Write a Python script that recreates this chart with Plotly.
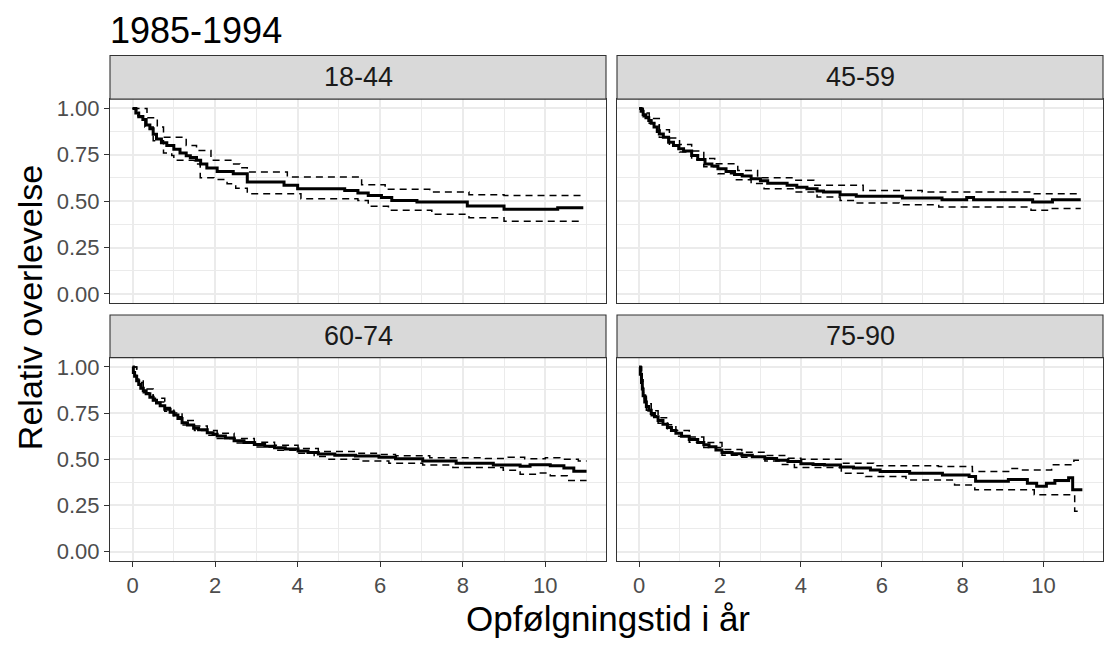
import plotly.graph_objects as go

# Relative survival (step estimates with 95% limits) by age group, 1985-1994
panels = ["18-44", "45-59", "60-74", "75-90"]

# 18-44
t_1844 = [0, 0.08, 0.15, 0.25, 0.33, 0.42, 0.5, 0.58, 0.7, 0.83, 1.0, 1.15, 1.3, 1.4, 1.55, 1.65,
          1.8, 2.05, 2.44, 2.78, 3.67, 4.0, 5.14, 5.46, 5.71, 6.03, 6.28, 6.89, 8.11, 9.0, 10.3, 10.92]
s_1844 = [1.0, 0.975, 0.955, 0.94, 0.91, 0.89, 0.86, 0.835, 0.815, 0.80, 0.78, 0.76, 0.745, 0.735, 0.72, 0.70,
          0.678, 0.66, 0.648, 0.603, 0.585, 0.567, 0.558, 0.544, 0.531, 0.519, 0.504, 0.496, 0.474, 0.456, 0.465, 0.465]
tu_1844 = [0, 0.35, 0.6, 0.75, 1.3, 1.55, 1.9, 2.4, 2.6, 2.78, 3.75, 5.55, 6.12, 7.2, 8.15, 9.0, 10.92]
up_1844 = [1.0, 0.95, 0.9, 0.844, 0.80, 0.773, 0.72, 0.70, 0.68, 0.657, 0.63, 0.589, 0.564, 0.549, 0.535, 0.531, 0.531]
tl_1844 = [0, 0.1, 0.3, 0.5, 0.75, 0.95, 1.0, 1.5, 1.64, 1.97, 2.29, 2.5, 2.78, 4.08, 5.46, 5.71, 6.2, 7.25, 8.15, 9.0, 10.92]
lo_1844 = [1.0, 0.96, 0.9, 0.826, 0.76, 0.746, 0.72, 0.70, 0.626, 0.617, 0.594, 0.57, 0.540, 0.513, 0.504, 0.472, 0.451, 0.429, 0.411, 0.392, 0.392]

# 45-59
t_4559 = [0, 0.05, 0.1, 0.17, 0.24, 0.3, 0.37, 0.45, 0.5, 0.6, 0.73, 0.85, 0.98, 1.1, 1.3, 1.45, 1.63, 1.8, 1.95,
          2.15, 2.36, 2.55, 2.77, 3.0, 3.18, 3.66, 3.9, 4.15, 4.4, 4.56, 4.97, 5.37, 6.51, 7.49, 8.1, 8.27, 9.73, 10.22, 10.92]
s_4559 = [1.0, 0.985, 0.965, 0.95, 0.934, 0.92, 0.90, 0.875, 0.862, 0.845, 0.818, 0.80, 0.782, 0.77, 0.746, 0.725, 0.70, 0.69, 0.674,
          0.66, 0.644, 0.635, 0.621, 0.61, 0.597, 0.585, 0.575, 0.567, 0.555, 0.549, 0.535, 0.526, 0.517, 0.508, 0.519, 0.508, 0.496, 0.508, 0.508]
tu_4559 = [0, 0.1, 0.25, 0.5, 0.75, 1.0, 1.3, 1.6, 1.87, 2.44, 2.93, 3.83, 4.32, 5.54, 7.0, 9.77, 10.92]
up_4559 = [1.0, 0.975, 0.945, 0.885, 0.84, 0.805, 0.77, 0.73, 0.701, 0.665, 0.626, 0.612, 0.585, 0.558, 0.549, 0.540, 0.540]
tl_4559 = [0, 0.1, 0.25, 0.5, 0.75, 1.0, 1.3, 1.6, 1.95, 2.36, 2.77, 3.09, 3.83, 4.4, 4.97, 5.37, 6.43, 7.41, 9.69, 10.18, 10.92]
lo_4559 = [1.0, 0.955, 0.92, 0.845, 0.80, 0.765, 0.725, 0.685, 0.648, 0.615, 0.595, 0.567, 0.549, 0.522, 0.504, 0.490, 0.481, 0.469, 0.451, 0.460, 0.460]

# 60-74
t_6074 = [0, 0.02, 0.05, 0.1, 0.15, 0.2, 0.26, 0.33, 0.42, 0.5, 0.58, 0.67, 0.78, 0.91, 1.0, 1.1, 1.2, 1.33, 1.48, 1.6,
          1.81, 1.95, 2.05, 2.25, 2.46, 2.7, 2.95, 3.2, 3.44, 3.7, 4.01, 4.25, 4.5, 4.9, 5.4, 5.97, 6.37, 7.03, 7.84,
          8.74, 9.39, 9.63, 10.12, 10.45, 10.69, 11.0]
s_6074 = [1.0, 0.97, 0.95, 0.925, 0.905, 0.885, 0.871, 0.855, 0.835, 0.82, 0.805, 0.79, 0.77, 0.755, 0.74, 0.72, 0.697, 0.685, 0.668, 0.66,
          0.643, 0.635, 0.626, 0.615, 0.60, 0.59, 0.58, 0.57, 0.562, 0.555, 0.545, 0.537, 0.528, 0.522, 0.517, 0.51, 0.503, 0.49, 0.478,
          0.469, 0.462, 0.470, 0.465, 0.452, 0.435, 0.435]
tu_6074 = [0, 0.1, 0.26, 0.5, 0.78, 1.0, 1.2, 1.5, 1.81, 2.05, 2.46, 2.95, 3.44, 4.01, 4.5, 5.4, 5.97, 6.37, 7.2, 8.55,
           9.1, 9.5, 10.0, 10.35, 10.8, 11.0]
up_6074 = [1.0, 0.935, 0.88, 0.83, 0.78, 0.75, 0.71, 0.68, 0.655, 0.64, 0.612, 0.592, 0.575, 0.558, 0.542, 0.532, 0.525, 0.519, 0.508, 0.504,
           0.51, 0.502, 0.508, 0.50, 0.49, 0.49]
tl_6074 = [0, 0.1, 0.26, 0.5, 0.78, 1.0, 1.2, 1.5, 1.81, 2.05, 2.46, 2.95, 3.44, 4.01, 4.4, 4.74, 5.48, 6.21, 7.03, 7.76,
           8.98, 9.39, 9.8, 10.12, 10.53, 11.0]
lo_6074 = [1.0, 0.915, 0.86, 0.81, 0.76, 0.73, 0.685, 0.655, 0.63, 0.612, 0.588, 0.566, 0.548, 0.532, 0.515, 0.50, 0.49, 0.478, 0.468, 0.455,
           0.44, 0.418, 0.426, 0.41, 0.385, 0.385]

# 75-90
t_7590 = [0, 0.03, 0.06, 0.08, 0.1, 0.14, 0.18, 0.24, 0.3, 0.38, 0.47, 0.59, 0.7, 0.8, 0.91, 1.05, 1.24, 1.45, 1.6, 1.73,
          1.9, 2.05, 2.3, 2.54, 2.8, 3.11, 3.4, 3.68, 4.0, 4.3, 4.58, 4.98, 5.3, 5.72, 5.96, 6.69, 7.5, 8.16, 8.32,
          9.13, 9.6, 9.83, 10.07, 10.28, 10.62, 10.72, 10.96]
s_7590 = [1.0, 0.96, 0.916, 0.88, 0.844, 0.81, 0.785, 0.765, 0.748, 0.73, 0.71, 0.69, 0.672, 0.655, 0.64, 0.625, 0.607, 0.59, 0.578, 0.567,
          0.55, 0.537, 0.53, 0.522, 0.513, 0.504, 0.495, 0.487, 0.475, 0.472, 0.469, 0.458, 0.452, 0.442, 0.433, 0.424, 0.415, 0.406, 0.38,
          0.39, 0.37, 0.354, 0.37, 0.385, 0.40, 0.334, 0.334]
tu_7590 = [0, 0.06, 0.1, 0.18, 0.3, 0.47, 0.7, 0.91, 1.24, 1.6, 2.05, 2.54, 3.11, 3.68, 4.0, 5.0, 5.8, 7.4, 8.24,
           9.2, 9.46, 10.2, 10.75, 10.96]
up_7590 = [1.0, 0.93, 0.86, 0.80, 0.762, 0.725, 0.687, 0.655, 0.62, 0.59, 0.552, 0.538, 0.52, 0.505, 0.50, 0.478, 0.465, 0.46, 0.433,
           0.45, 0.442, 0.47, 0.495, 0.495]
tl_7590 = [0, 0.06, 0.1, 0.18, 0.3, 0.47, 0.7, 0.91, 1.24, 1.6, 2.05, 2.54, 3.11, 3.5, 3.84, 5.0, 5.6, 6.6, 7.8, 8.3,
           9.77, 10.77, 10.96]
lo_7590 = [1.0, 0.90, 0.83, 0.765, 0.735, 0.695, 0.657, 0.625, 0.592, 0.563, 0.522, 0.51, 0.49, 0.472, 0.455, 0.424, 0.406, 0.388, 0.361, 0.334,
           0.308, 0.218, 0.218]

series = {
    "18-44": (t_1844, s_1844, tu_1844, up_1844, tl_1844, lo_1844),
    "45-59": (t_4559, s_4559, tu_4559, up_4559, tl_4559, lo_4559),
    "60-74": (t_6074, s_6074, tu_6074, up_6074, tl_6074, lo_6074),
    "75-90": (t_7590, s_7590, tu_7590, up_7590, tl_7590, lo_7590),
}

x_ticks = [0, 2, 4, 6, 8, 10]
y_ticks = [0.0, 0.25, 0.5, 0.75, 1.0]
y_labels = ["0.00", "0.25", "0.50", "0.75", "1.00"]

W, H = 1105, 645
FONT = "Liberation Sans, Arial, sans-serif"

# panel pixel boxes (left, right, top, bottom) and strip heights
cols = [(110, 606), (617, 1103)]
rows = [(97, 303), (358, 563)]
strip_tops = [53, 315]

fig = go.Figure()
layout = dict(
    width=W, height=H, margin=dict(l=0, r=0, t=0, b=0),
    paper_bgcolor="white", plot_bgcolor="white", showlegend=False,
    font=dict(family=FONT),
)
shapes, annotations = [], []

for i, name in enumerate(panels):
    r, c = divmod(i, 2)
    k = "" if i == 0 else str(i + 1)
    xl, xr = cols[c]
    yt, yb = rows[r]
    layout["xaxis" + k] = dict(
        domain=[xl / W, xr / W], anchor="y" + k, range=[-0.546, 11.47],
        tickvals=x_ticks, ticktext=[str(v) for v in x_ticks],
        showticklabels=(r == 1), ticks="outside" if r == 1 else "", ticklen=5, tickwidth=1.1,
        tickcolor="#333333", tickfont=dict(size=22, color="#4D4D4D", family=FONT),
        showgrid=True, gridcolor="#EBEBEB", gridwidth=1.6, zeroline=False,
        minor=dict(tick0=1, dtick=2, showgrid=True, gridcolor="#EBEBEB", gridwidth=0.9),
        showline=True, mirror=True, linecolor="#333333", linewidth=1.1,
    )
    layout["yaxis" + k] = dict(
        domain=[(H - yb) / H, (H - yt) / H], anchor="x" + k, range=[-0.05, 1.05],
        tickvals=y_ticks, ticktext=y_labels,
        showticklabels=(c == 0), ticks="outside" if c == 0 else "", ticklen=5, tickwidth=1.1,
        tickcolor="#333333", tickfont=dict(size=22, color="#4D4D4D", family=FONT),
        showgrid=True, gridcolor="#EBEBEB", gridwidth=1.6, zeroline=False,
        minor=dict(tick0=0.125, dtick=0.25, showgrid=True, gridcolor="#EBEBEB", gridwidth=0.9),
        showline=True, mirror=True, linecolor="#333333", linewidth=1.1,
    )

    t, s, tu, up, tl, lo = series[name]
    for tx, ty in ((tu, up), (tl, lo)):
        fig.add_trace(go.Scatter(
            x=tx, y=ty, mode="lines", line=dict(color="black", width=1.5, dash="7px,5px", shape="hv"),
            xaxis="x" + k, yaxis="y" + k, hoverinfo="skip"))
    fig.add_trace(go.Scatter(
        x=t, y=s, mode="lines", line=dict(color="black", width=3, shape="hv"),
        xaxis="x" + k, yaxis="y" + k, name=name))

    # facet strip
    st = strip_tops[r]
    shapes.append(dict(type="rect", xref="paper", yref="paper",
                       x0=xl / W, x1=xr / W, y0=(H - yt) / H, y1=(H - st) / H,
                       fillcolor="#D9D9D9", line=dict(color="#333333", width=1.1), layer="above"))
    annotations.append(dict(text=name, xref="paper", yref="paper",
                            x=(xl + xr) / 2 / W, y=(H - (st + yt) / 2) / H,
                            xanchor="center", yanchor="middle", showarrow=False,
                            font=dict(size=27, color="#1A1A1A", family=FONT)))

annotations.append(dict(text="1985-1994", xref="paper", yref="paper", x=108 / W, y=(H - 28) / H,
                        xanchor="left", yanchor="middle", showarrow=False,
                        font=dict(size=36, color="black", family=FONT)))
annotations.append(dict(text="Opfølgningstid i år", xref="paper", yref="paper", x=608 / W, y=(H - 621) / H,
                        xanchor="center", yanchor="middle", showarrow=False,
                        font=dict(size=35, color="black", family=FONT)))
annotations.append(dict(text="Relativ overlevelse", xref="paper", yref="paper", x=30 / W, y=(H - 308) / H,
                        xanchor="center", yanchor="middle", textangle=-90, showarrow=False,
                        font=dict(size=34, color="black", family=FONT)))

layout["shapes"] = shapes
layout["annotations"] = annotations
fig.update_layout(**layout)
fig.write_html("out.html")
